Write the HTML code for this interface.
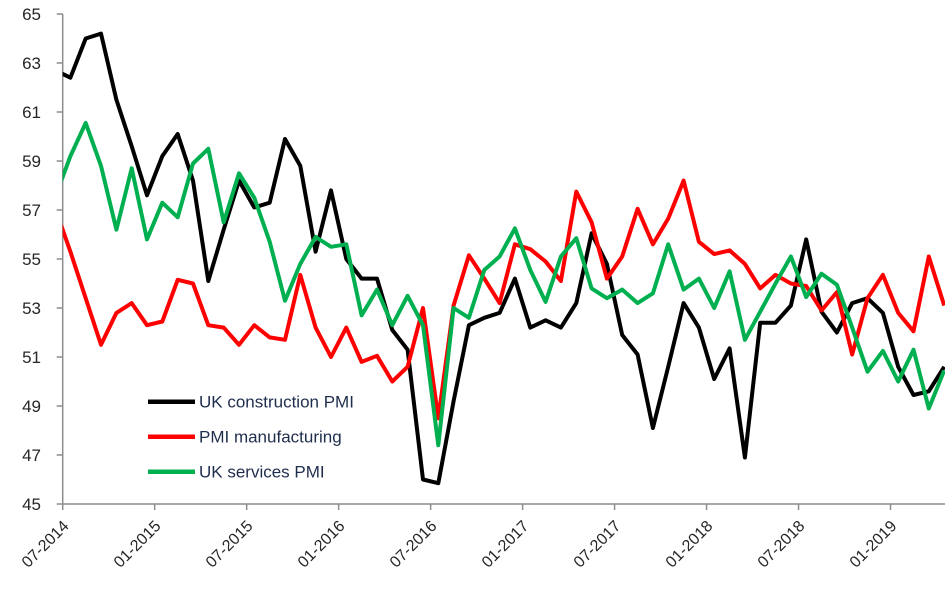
<!DOCTYPE html>
<html><head><meta charset="utf-8"><style>
html,body{margin:0;padding:0;background:#fff}
svg{display:block;font-family:"Liberation Sans",sans-serif}
</style></head><body>
<svg id="chart" width="945" height="597" viewBox="0 0 945 597">
<defs><clipPath id="plot"><rect x="62.7" y="0" width="890" height="510"/></clipPath></defs>
<g id="axes"></g>
<g id="series" clip-path="url(#plot)"></g>
<g id="legend"></g>
</svg>
<script>
const tickLabels = ["07-2014","01-2015","07-2015","01-2016","07-2016","01-2017","07-2017","01-2018","07-2018","01-2019"];
const yTicks = [45,47,49,51,53,55,57,59,61,63,65];
const seriesNames = ["UK construction PMI","PMI manufacturing","UK services PMI"];
// index 0 = 06-2014 (partly clipped), then monthly
const construction = [62.7,62.4,64.0,64.2,61.5,59.6,57.6,59.2,60.1,58.2,54.1,56.2,58.2,57.1,57.3,59.9,58.8,55.3,57.8,55.0,54.2,54.2,52.1,51.3,46.0,45.85,49.2,52.3,52.6,52.8,54.2,52.2,52.5,52.2,53.2,56.05,54.8,51.9,51.1,48.1,50.6,53.2,52.2,50.1,51.35,46.9,52.4,52.4,53.1,55.8,52.85,52.0,53.2,53.4,52.8,50.6,49.45,49.6,50.6];
const manufacturing = [57.1,55.3,53.4,51.5,52.8,53.2,52.3,52.45,54.15,54.0,52.3,52.2,51.5,52.3,51.8,51.7,54.35,52.2,51.0,52.2,50.8,51.05,50.0,50.6,53.0,48.5,53.1,55.15,54.2,53.2,55.6,55.4,54.9,54.1,57.75,56.5,54.2,55.1,57.05,55.6,56.65,58.2,55.7,55.2,55.35,54.8,53.8,54.35,54.0,53.9,52.9,53.65,51.1,53.4,54.35,52.8,52.05,55.1,53.1];
const services = [57.5,59.2,60.55,58.8,56.2,58.7,55.8,57.3,56.7,58.9,59.5,56.5,58.5,57.5,55.7,53.3,54.8,55.9,55.5,55.6,52.7,53.75,52.3,53.5,52.3,47.4,53.0,52.6,54.55,55.1,56.25,54.55,53.25,55.1,55.85,53.8,53.4,53.75,53.2,53.6,55.6,53.75,54.2,53.0,54.5,51.7,52.85,54.0,55.1,53.45,54.4,53.95,52.2,50.4,51.25,50.0,51.3,48.9,50.45];
const colors = ["#000000","#ff0000","#00b050"];

const NS="http://www.w3.org/2000/svg";
const X0=62.7, MW=15.33, Y0=504, Y1=14, YMIN=45, YMAX=65;
function xMonth(m){return X0+m*MW;}
function xPoint(i){return X0+(i-0.5)*MW;}
function yVal(v){return Y0-(v-YMIN)/(YMAX-YMIN)*(Y0-Y1);}
function mk(tag,attrs,parent){const e=document.createElementNS(NS,tag);for(const k in attrs)e.setAttribute(k,attrs[k]);parent.appendChild(e);return e;}
const axes=document.getElementById('axes');
let yAxis=mk('line',{x1:X0,y1:Y1,x2:X0,y2:Y0,stroke:'#8c8c8c','stroke-width':1.5},axes);


let xAxis=mk('line',{x1:X0,y1:Y0,x2:945,y2:Y0,stroke:'#8c8c8c','stroke-width':1.5},axes);


yTicks.forEach(v=>{
  const y=yVal(v);
  mk('line',{x1:X0-6,y1:y,x2:X0,y2:y,stroke:'#8c8c8c','stroke-width':1.5},axes);
  const t=mk('text',{x:41,y:y+6,'text-anchor':'end','font-size':17,fill:'#262626'},axes);
  t.textContent=v;
  
  
});
tickLabels.forEach((lab,i)=>{
  const x=xMonth(i*6);
  mk('line',{x1:x,y1:Y0,x2:x,y2:Y0+6,stroke:'#8c8c8c','stroke-width':1.5},axes);
  const t=mk('text',{x:x+7,y:Y0+23,'text-anchor':'end','font-size':16,fill:'#262626',transform:`rotate(-45 ${x+7} ${Y0+23})`},axes);
  t.textContent=lab;
  
  
});
const sg=document.getElementById('series');
[construction,manufacturing,services].forEach((arr,si)=>{
  const pts=arr.map((v,i)=>xPoint(i).toFixed(1)+','+yVal(v).toFixed(1)).join(' ');
  const p=mk('polyline',{points:pts,fill:'none',stroke:colors[si],'stroke-width':4,'stroke-linejoin':'round'},sg);
  
  
});
const lg=document.getElementById('legend');
seriesNames.forEach((n,i)=>{
  const y=401.7+i*35;
  const g=mk('g',{},lg);
  
  
  mk('line',{x1:148,y1:y,x2:195,y2:y,stroke:colors[i],'stroke-width':4.5},g);
  const t=mk('text',{x:199,y:y+6,'font-size':17,fill:'#1f2d4d'},g);
  t.textContent=n;
});
</script>
</body></html>
